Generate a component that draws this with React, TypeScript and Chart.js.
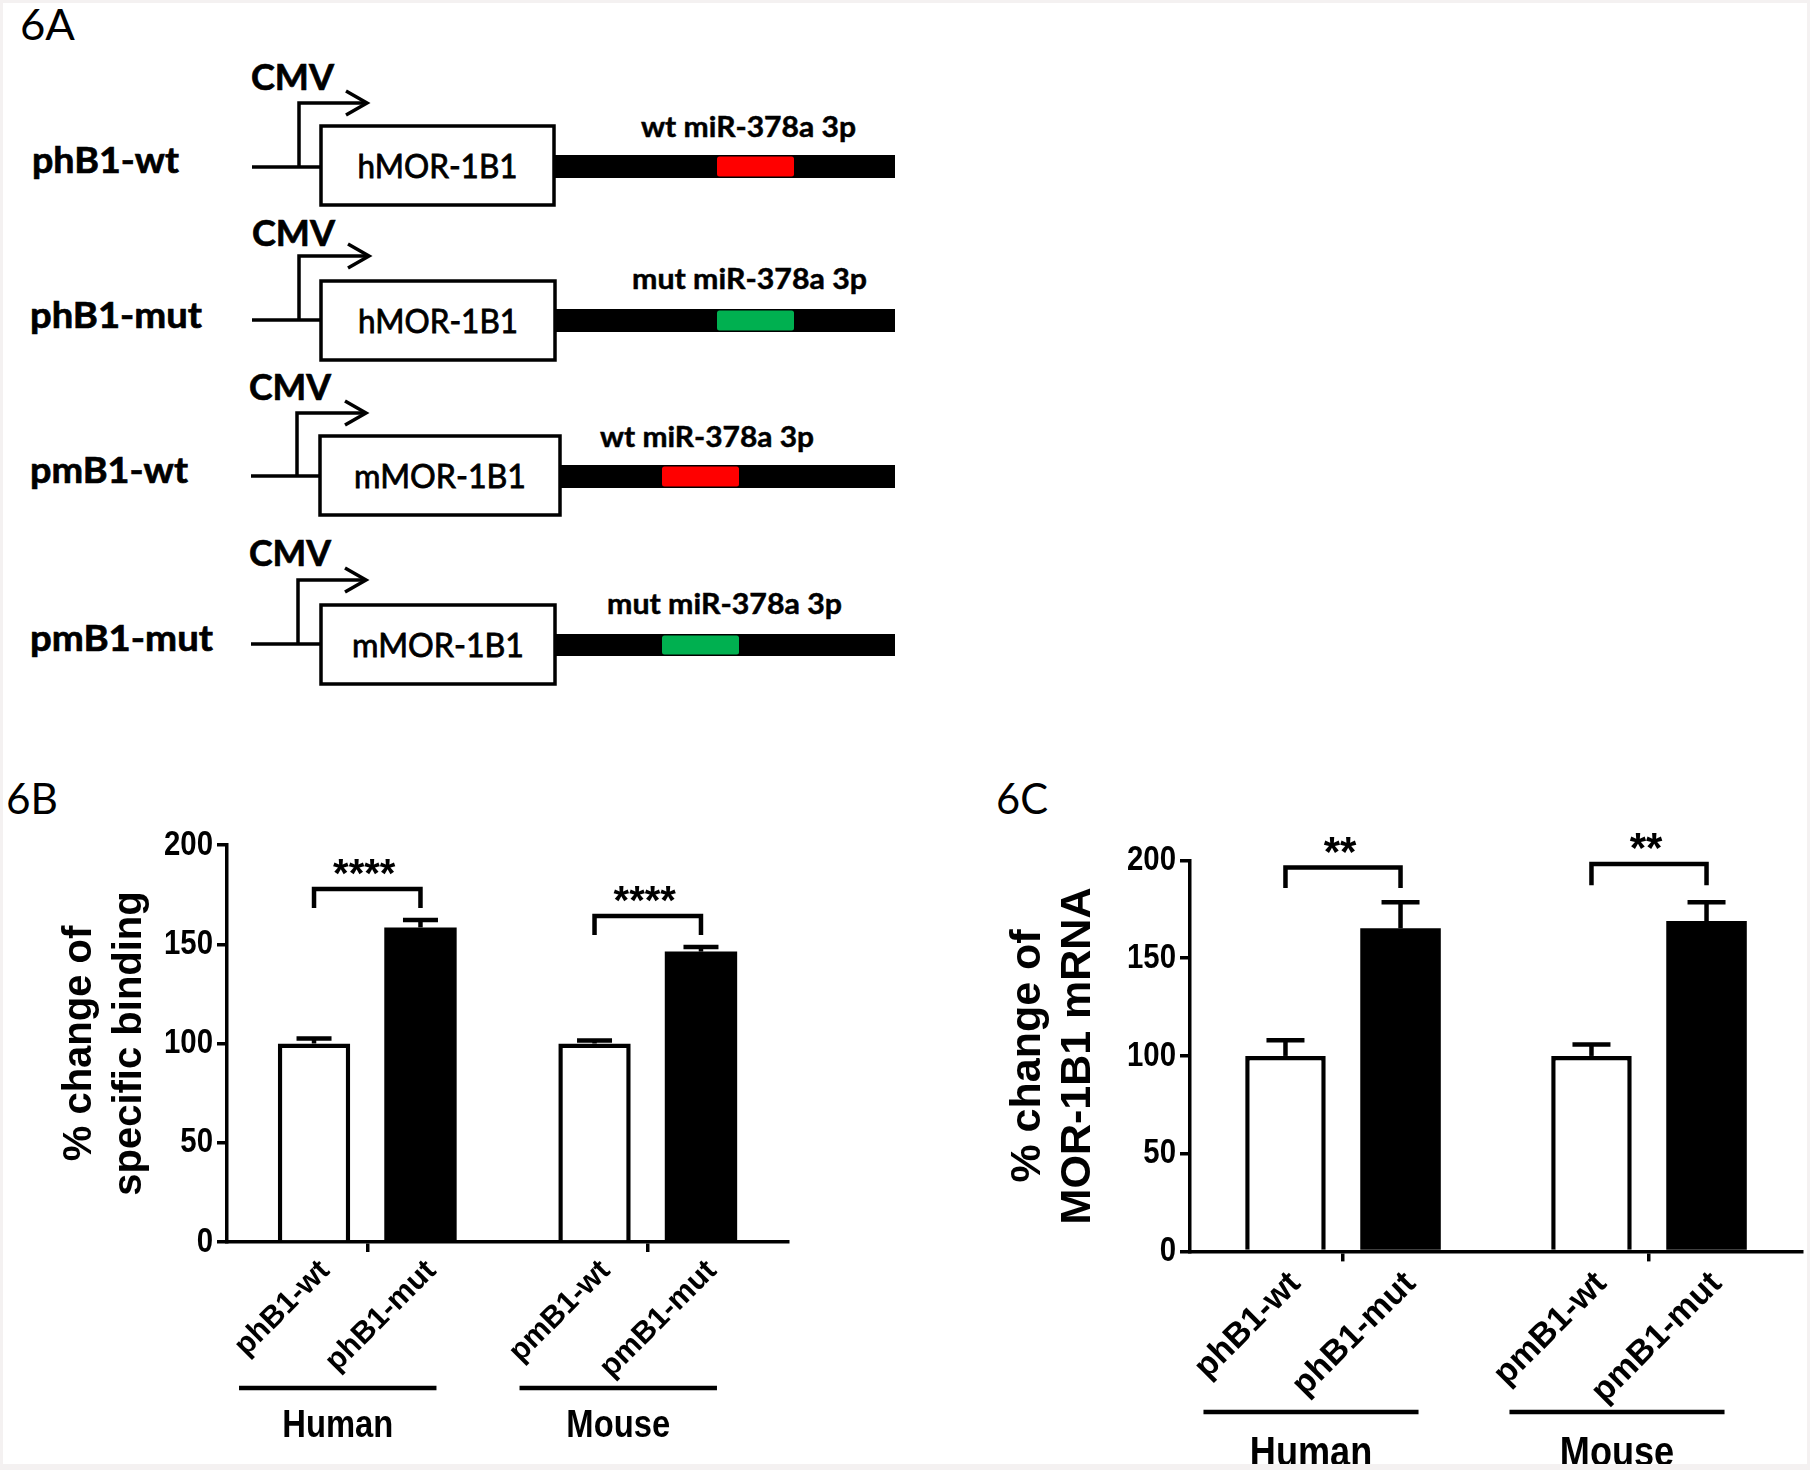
import React, { useEffect, useRef } from 'react';
import { Chart, registerables } from 'chart.js';

Chart.register(...registerables);

const FONT = "'Liberation Sans', Arial, Helvetica, sans-serif";
const DFONT = "Lato, 'Open Sans', sans-serif";
const CONDENSE = 0.84; // horizontal squeeze imitating a narrow bold face

// ---------- Panel A (schematic) ----------
const constructNames = ['phB1-wt', 'phB1-mut', 'pmB1-wt', 'pmB1-mut'];
const promoterLabels = ['CMV', 'CMV', 'CMV', 'CMV'];
const insertNames = ['hMOR-1B1', 'hMOR-1B1', 'mMOR-1B1', 'mMOR-1B1'];
const siteLabels = ['wt miR-378a 3p', 'mut miR-378a 3p', 'wt miR-378a 3p', 'mut miR-378a 3p'];
const siteTypes = ['wt', 'mut', 'wt', 'mut'];

// ---------- Panels B and C ----------
const groupNames = ['Human', 'Mouse'];
const wtLabels = ['phB1-wt', 'pmB1-wt'];
const mutLabels = ['phB1-mut', 'pmB1-mut'];

const bindingWt = [100, 100];
const bindingWtSem = [2.5, 1.5];
const bindingMut = [158.5, 146.3];
const bindingMutSem = [3.7, 2.3];
const bindingSig = ['****', '****'];
const bindingBracketTop = [177.8, 164.2];
const bindingBracketLeg = [168.3, 154.7];

const mrnaWt = [100, 100];
const mrnaWtSem = [8, 5.8];
const mrnaMut = [165.3, 169];
const mrnaMutSem = [13.4, 9.7];
const mrnaSig = ['**', '**'];
const mrnaBracketTop = [196.4, 198.2];
const mrnaBracketLeg = [185.9, 187.4];

const yMin = 0;
const yMax = 200;
const yStep = 50;

// layout of the schematic rows (positions only)
const rowLayout = [
  { nameX: 32, nameBase: 173, nameW: 147, cmvX: 251, cmvW: 83, cmvBase: 90, lineL: 252, lineY: 167, arrowX: 299, arrowTop: 103, tipX: 367, boxL: 321, boxR: 554, boxT: 126, boxB: 205, barT: 155, barB: 178, siteL: 717, siteR: 794, siteTextX: 641, siteTextW: 215, siteBase: 137, insW: 160 },
  { nameX: 30, nameBase: 328, nameW: 172, cmvX: 252, cmvW: 83, cmvBase: 246, lineL: 252, lineY: 320, arrowX: 299, arrowTop: 256, tipX: 369, boxL: 321, boxR: 555, boxT: 281, boxB: 360, barT: 309, barB: 332, siteL: 717, siteR: 794, siteTextX: 632, siteTextW: 235, siteBase: 289, insW: 160 },
  { nameX: 30, nameBase: 483, nameW: 158, cmvX: 249, cmvW: 82, cmvBase: 400, lineL: 251, lineY: 476, arrowX: 297, arrowTop: 413, tipX: 366, boxL: 320, boxR: 560, boxT: 436, boxB: 515, barT: 465, barB: 488, siteL: 662, siteR: 739, siteTextX: 600, siteTextW: 214, siteBase: 447, insW: 172 },
  { nameX: 30, nameBase: 651, nameW: 183, cmvX: 249, cmvW: 82, cmvBase: 566, lineL: 251, lineY: 644, arrowX: 298, arrowTop: 580, tipX: 366, boxL: 321, boxR: 555, boxT: 605, boxB: 684, barT: 634, barB: 656, siteL: 662, siteR: 739, siteTextX: 607, siteTextW: 235, siteBase: 614, insW: 172 },
];
const BAR_END = 895;

function PanelA() {
  return (
    <svg width={1810} height={740} style={{ position: 'absolute', left: 0, top: 0 }}>
      <text x={20} y={40} fontFamily={DFONT} fontSize={43} textLength={55} lengthAdjust="spacingAndGlyphs" fill="#000">6A</text>
      {constructNames.map((name, i) => {
        const r = rowLayout[i];
        const siteColor = siteTypes[i] === 'wt' ? '#ff0000' : '#00b050';
        return (
          <g key={i}>
            <text x={r.nameX} y={r.nameBase} fontFamily={DFONT} fontWeight={700} fontSize={37} textLength={r.nameW} lengthAdjust="spacingAndGlyphs" fill="#000" stroke="#000" strokeWidth={0.7}>{name}</text>
            <text x={r.cmvX} y={r.cmvBase} fontFamily={DFONT} fontWeight={700} fontSize={37} textLength={r.cmvW} lengthAdjust="spacingAndGlyphs" fill="#000" stroke="#000" strokeWidth={0.7}>{promoterLabels[i]}</text>
            <line x1={r.lineL} y1={r.lineY} x2={r.boxL} y2={r.lineY} stroke="#000" strokeWidth={3.5} />
            <polyline points={`${r.arrowX},${r.lineY} ${r.arrowX},${r.arrowTop} ${r.tipX},${r.arrowTop}`} fill="none" stroke="#000" strokeWidth={3.5} strokeLinejoin="miter" />
            <polyline points={`${r.tipX - 21},${r.arrowTop - 12} ${r.tipX},${r.arrowTop} ${r.tipX - 21},${r.arrowTop + 12}`} fill="none" stroke="#000" strokeWidth={3.5} strokeLinejoin="miter" />
            <rect x={r.boxR} y={r.barT} width={BAR_END - r.boxR} height={r.barB - r.barT} fill="#000" />
            <rect x={r.siteL} y={r.barT + 1.5} width={r.siteR - r.siteL} height={r.barB - r.barT - 3} rx={2.5} fill={siteColor} />
            <rect x={r.boxL} y={r.boxT} width={r.boxR - r.boxL} height={r.boxB - r.boxT} fill="#fff" stroke="#000" strokeWidth={3.5} />
            <text x={(r.boxL + r.boxR) / 2} y={(r.boxT + r.boxB) / 2 + 12} textAnchor="middle" fontFamily={DFONT} fontSize={32} textLength={r.insW} lengthAdjust="spacingAndGlyphs" fill="#000" stroke="#000" strokeWidth={0.8}>{insertNames[i]}</text>
            <text x={r.siteTextX} y={r.siteBase} fontFamily={DFONT} fontWeight={700} fontSize={29} textLength={r.siteTextW} lengthAdjust="spacingAndGlyphs" fill="#000" stroke="#000" strokeWidth={0.5}>{siteLabels[i]}</text>
          </g>
        );
      })}
    </svg>
  );
}

type PanelCfg = {
  left: number; top: number; w: number; h: number;
  padTop: number; padRight: number; yWidth: number; xHeight: number;
  titleLines: string[]; titleSize: number; titleLineHeight: number; titlePad: number;
  wt: number[]; wtSem: number[]; mut: number[]; mutSem: number[];
  sig: string[]; bracketTop: number[]; bracketLeg: number[];
  catPct: number; barPct: number; capW: number; starSize: number;
  labelSize: number; labelDx: number; labelDy: number;
  lineDy: number; lineL: number; lineR: number; nameDy: number; nameSize: number;
  tickSize: number;
  panelLabel: string; panelX: number;
};

const TICK_LEN = 10;
const TICK_PAD = 4;

function BarPanel({ cfg }: { cfg: PanelCfg }) {
  const ref = useRef<HTMLCanvasElement>(null);
  useEffect(() => {
    if (!ref.current) return;
    const decor = {
      id: 'decor',
      afterDraw(chart: any) {
        const ctx = chart.ctx;
        const ys = chart.scales.y;
        const m0 = chart.getDatasetMeta(0);
        const m1 = chart.getDatasetMeta(1);
        const axisY = chart.chartArea.bottom;
        ctx.save();
        ctx.strokeStyle = '#000';
        ctx.fillStyle = '#000';
        ctx.lineCap = 'butt';
        ctx.lineJoin = 'miter';
        // y tick labels from the library's own ticks, in a condensed bold face
        ctx.font = `bold ${cfg.tickSize}px ${FONT}`;
        ys.ticks.forEach((t: any) => {
          const y = ys.getPixelForValue(t.value);
          ctx.save();
          ctx.translate(chart.chartArea.left - TICK_LEN - TICK_PAD, y);
          ctx.scale(CONDENSE, 1);
          ctx.textAlign = 'right';
          ctx.textBaseline = 'middle';
          ctx.fillText(String(t.value), 0, 0);
          ctx.restore();
        });
        // error bars (upward)
        const sets: [any, number[], number[]][] = [[m0, cfg.wt, cfg.wtSem], [m1, cfg.mut, cfg.mutSem]];
        sets.forEach(([meta, vals, sem]) => {
          meta.data.forEach((bar: any, i: number) => {
            const x = bar.x;
            const yTop = ys.getPixelForValue(vals[i] + sem[i]);
            ctx.lineWidth = 4.5;
            ctx.beginPath();
            ctx.moveTo(x, bar.y);
            ctx.lineTo(x, yTop);
            ctx.stroke();
            ctx.beginPath();
            ctx.moveTo(x - cfg.capW / 2, yTop);
            ctx.lineTo(x + cfg.capW / 2, yTop);
            ctx.stroke();
          });
        });
        // significance brackets
        groupNames.forEach((_, i) => {
          const xl = m0.data[i].x;
          const xr = m1.data[i].x;
          const yt = ys.getPixelForValue(cfg.bracketTop[i]);
          const yl = ys.getPixelForValue(cfg.bracketLeg[i]);
          ctx.lineWidth = 4.5;
          ctx.beginPath();
          ctx.moveTo(xl, yl);
          ctx.lineTo(xl, yt);
          ctx.lineTo(xr, yt);
          ctx.lineTo(xr, yl);
          ctx.stroke();
          ctx.font = `bold ${cfg.starSize}px ${FONT}`;
          ctx.textAlign = 'center';
          ctx.textBaseline = 'alphabetic';
          ctx.fillText(cfg.sig[i], (xl + xr) / 2 - 3, yt - 2);
        });
        // rotated bar labels
        ctx.font = `bold ${cfg.labelSize}px ${FONT}`;
        const labelSets: [any, string[]][] = [[m0, wtLabels], [m1, mutLabels]];
        labelSets.forEach(([meta, labels]) => {
          meta.data.forEach((bar: any, i: number) => {
            ctx.save();
            ctx.translate(bar.x + cfg.labelDx, axisY + cfg.labelDy);
            ctx.rotate(-Math.PI / 4);
            ctx.textAlign = 'right';
            ctx.textBaseline = 'middle';
            ctx.fillText(labels[i], 0, 0);
            ctx.restore();
          });
        });
        // group lines and names
        groupNames.forEach((g, i) => {
          const l = m0.data[i].x + cfg.lineL;
          const r = m1.data[i].x + cfg.lineR;
          const y = axisY + cfg.lineDy;
          ctx.lineWidth = 4.5;
          ctx.beginPath();
          ctx.moveTo(l, y);
          ctx.lineTo(r, y);
          ctx.stroke();
          ctx.save();
          ctx.translate((l + r) / 2, axisY + cfg.nameDy);
          ctx.scale(CONDENSE, 1);
          ctx.font = `bold ${cfg.nameSize}px ${FONT}`;
          ctx.textAlign = 'center';
          ctx.textBaseline = 'alphabetic';
          ctx.fillText(g, 0, 0);
          ctx.restore();
        });
        ctx.restore();
      },
    };
    const chart = new Chart(ref.current, {
      type: 'bar',
      data: {
        labels: groupNames,
        datasets: [
          { label: 'wt', data: cfg.wt, backgroundColor: '#ffffff', borderColor: '#000000', borderWidth: 4.5, borderSkipped: 'start', categoryPercentage: cfg.catPct, barPercentage: cfg.barPct },
          { label: 'mut', data: cfg.mut, backgroundColor: '#000000', borderColor: '#000000', borderWidth: 0, categoryPercentage: cfg.catPct, barPercentage: cfg.barPct },
        ],
      },
      options: {
        responsive: false,
        animation: false,
        devicePixelRatio: 1,
        layout: { padding: { left: 0, top: cfg.padTop, right: cfg.padRight, bottom: 0 } },
        plugins: { legend: { display: false }, tooltip: { enabled: false }, title: { display: false } },
        scales: {
          x: {
            type: 'category',
            offset: true,
            grid: { display: true, offset: false, drawOnChartArea: false, drawTicks: true, tickLength: TICK_LEN, lineWidth: 3.5, color: '#000' },
            border: { display: true, color: '#000', width: 3.5 },
            ticks: { display: false },
            afterFit: (s: any) => { s.height = cfg.xHeight; },
          },
          y: {
            min: yMin,
            max: yMax,
            ticks: { stepSize: yStep, display: false },
            grid: { drawOnChartArea: false, drawTicks: true, tickLength: TICK_LEN, lineWidth: 3.5, color: '#000' },
            border: { display: true, color: '#000', width: 3.5 },
            title: {
              display: true,
              text: cfg.titleLines,
              color: '#000',
              font: { family: FONT, size: cfg.titleSize, weight: 'bold', lineHeight: cfg.titleLineHeight },
              padding: { top: cfg.titlePad, bottom: 0 },
            },
            afterFit: (s: any) => { s.width = cfg.yWidth; },
          },
        },
      },
      plugins: [decor],
    } as any);
    return () => chart.destroy();
  }, []);
  return (
    <>
      <svg width={70} height={60} style={{ position: 'absolute', left: cfg.panelX, top: cfg.top + 20, display: 'block' }}>
        <text x={0} y={34} fontFamily={DFONT} fontSize={43} textLength={52} lengthAdjust="spacingAndGlyphs" fill="#000">{cfg.panelLabel}</text>
      </svg>
      <canvas ref={ref} width={cfg.w} height={cfg.h} style={{ position: 'absolute', left: cfg.left, top: cfg.top, width: cfg.w, height: cfg.h }} />
    </>
  );
}

const panelB: PanelCfg = {
  left: 0, top: 760, w: 905, h: 710,
  padTop: 85, padRight: 117, yWidth: 227, xHeight: 228,
  titleLines: ['% change of', 'specific binding'], titleSize: 40, titleLineHeight: 1.25, titlePad: 54.5,
  wt: bindingWt, wtSem: bindingWtSem, mut: bindingMut, mutSem: bindingMutSem,
  sig: bindingSig, bracketTop: bindingBracketTop, bracketLeg: bindingBracketLeg,
  catPct: 0.759, barPct: 0.68, capW: 35, starSize: 40,
  labelSize: 30.5, labelDx: 11, labelDy: 24,
  lineDy: 146, lineL: -75, lineR: 16, nameDy: 195, nameSize: 39,
  tickSize: 35,
  panelLabel: '6B', panelX: 6,
};

const panelC: PanelCfg = {
  left: 905, top: 760, w: 905, h: 710,
  padTop: 100.5, padRight: 8, yWidth: 285, xHeight: 218.6,
  titleLines: ['% change of', 'MOR-1B1 mRNA'], titleSize: 43, titleLineHeight: 1.17, titlePad: 98,
  wt: mrnaWt, wtSem: mrnaWtSem, mut: mrnaMut, mutSem: mrnaMutSem,
  sig: mrnaSig, bracketTop: mrnaBracketTop, bracketLeg: mrnaBracketLeg,
  catPct: 0.752, barPct: 0.70, capW: 38, starSize: 42,
  labelSize: 34, labelDx: 10, labelDy: 27,
  lineDy: 160.6, lineL: -82, lineR: 18, nameDy: 214.5, nameSize: 43,
  tickSize: 35,
  panelLabel: '6C', panelX: 996,
};

export default function App() {
  return (
    <div style={{ position: 'absolute', left: 0, top: 0, width: 1810, height: 1470, background: '#fff', overflow: 'hidden' }}>
      <PanelA />
      <BarPanel cfg={panelB} />
      <BarPanel cfg={panelC} />
      <div style={{ position: 'absolute', left: 0, top: 0, width: 1810, height: 1470, boxSizing: 'border-box', borderStyle: 'solid', borderColor: '#f4f1f1', borderWidth: '3px 3px 6px 3px', pointerEvents: 'none' }} />
    </div>
  );
}
